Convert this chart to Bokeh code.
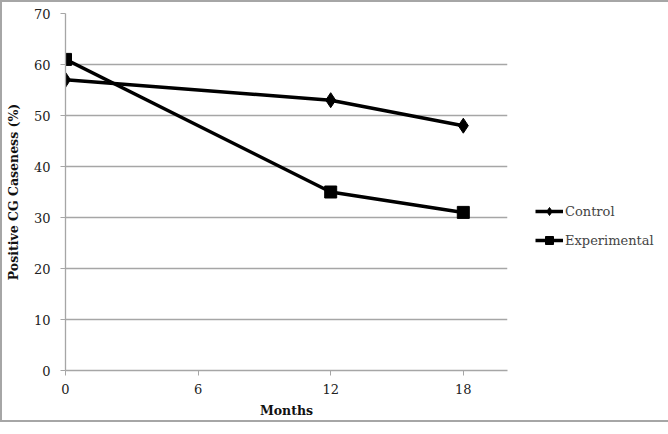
from bokeh.plotting import figure
from bokeh.models import Legend, LegendItem, FixedTicker, Range1d
from bokeh.embed import file_html
from bokeh.resources import INLINE

months = [0, 12, 18]
control = [57, 53, 48]
experimental = [61, 35, 31]
x_ticks = [0, 6, 12, 18]
y_ticks = [0, 10, 20, 30, 40, 50, 60, 70]

FONT = "DejaVu Serif"
GRAY = "#a6a6a6"

p = figure(frame_width=442, frame_height=357, output_backend="svg", toolbar_location=None,
           x_range=Range1d(0, 20), y_range=Range1d(0, 70),
           min_border_left=55, min_border_right=0, min_border_top=11, min_border_bottom=50)
p.outline_line_color = None
p.styles = {"border": "2px solid #a6a6a6", "box-sizing": "border-box"}

p.xgrid.visible = False
p.ygrid.grid_line_color = GRAY
p.ygrid.grid_line_width = 1.3
p.ygrid.ticker = FixedTicker(ticks=y_ticks)

p.xaxis.ticker = FixedTicker(ticks=x_ticks)
p.yaxis.ticker = FixedTicker(ticks=y_ticks)
for ax in (p.xaxis, p.yaxis):
    ax.axis_line_color = GRAY
    ax.axis_line_width = 1.3
    ax.major_tick_line_color = GRAY
    ax.major_tick_in = 0
    ax.major_tick_out = 5
    ax.minor_tick_line_color = None
    ax.major_label_text_font = FONT
    ax.major_label_text_font_size = "13px"
    ax.major_label_text_color = "#222222"
    ax.axis_label_text_font = FONT
    ax.axis_label_text_font_size = "12.5px"
    ax.axis_label_text_font_style = "bold"
    ax.axis_label_text_color = "#111111"
p.xaxis.axis_label = "Months"
p.yaxis.axis_label = "Positive CG Caseness (%)"
p.xaxis.major_label_standoff = 8
p.yaxis.major_label_standoff = 10
p.xaxis.axis_label_standoff = 6
p.yaxis.axis_label_standoff = 10

lc = p.line(months, control, line_color="black", line_width=3.5)
sc = p.scatter(months, control, marker="diamond", size=15, color="black")
le = p.line(months, experimental, line_color="black", line_width=3.5)
se = p.scatter(months, experimental, marker="square", size=12, color="black")

legend = Legend(items=[LegendItem(label="Control", renderers=[lc, sc]),
                       LegendItem(label="Experimental", renderers=[le, se])],
                location=(28, 120), border_line_color=None, background_fill_alpha=0,
                label_text_font=FONT, label_text_font_size="13px",
                glyph_width=28, label_standoff=2, spacing=9, padding=0, margin=0)
p.add_layout(legend, "right")

open("out.html", "w").write(file_html(p, INLINE))
